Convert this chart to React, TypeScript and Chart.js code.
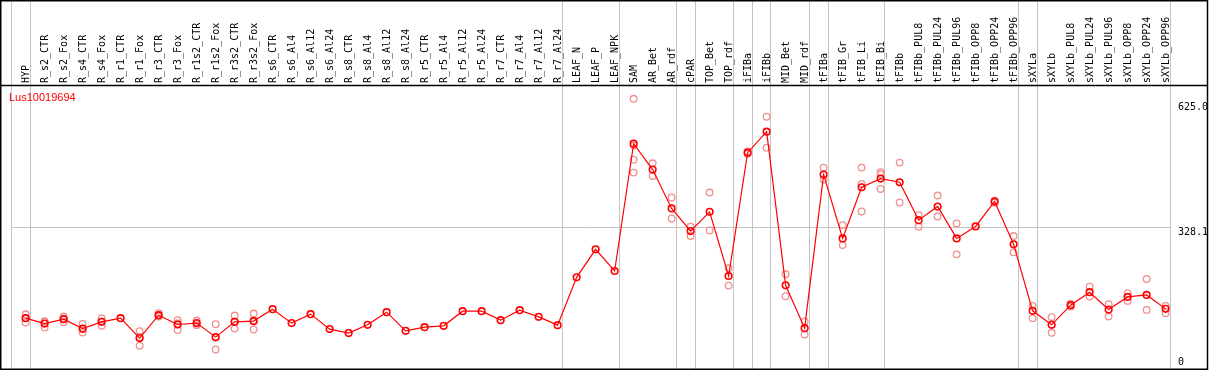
import { useEffect, useRef } from 'react';
import { Chart, registerables } from 'chart.js';

Chart.register(...registerables);

const chartTitle = 'Lus10019694';

const categories = [
  'HYP', 'R_s2_CTR', 'R_s2_Fox', 'R_s4_CTR', 'R_s4_Fox', 'R_r1_CTR', 'R_r1_Fox', 'R_r3_CTR', 'R_r3_Fox',
  'R_r1s2_CTR', 'R_r1s2_Fox', 'R_r3s2_CTR', 'R_r3s2_Fox', 'R_s6_CTR', 'R_s6_Al4', 'R_s6_Al12', 'R_s6_Al24',
  'R_s8_CTR', 'R_s8_Al4', 'R_s8_Al12', 'R_s8_Al24', 'R_r5_CTR', 'R_r5_Al4', 'R_r5_Al12', 'R_r5_Al24',
  'R_r7_CTR', 'R_r7_Al4', 'R_r7_Al12', 'R_r7_Al24', 'LEAF_N', 'LEAF_P', 'LEAF_NPK', 'SAM', 'AR_Bet', 'AR_rdf',
  'cPAR', 'TOP_Bet', 'TOP_rdf', 'iFIBa', 'iFIBb', 'MID_Bet', 'MID_rdf', 'tFIBa', 'tFIB_Gr', 'tFIB_Li', 'tFIB_Bi',
  'tFIBb', 'tFIBb_PUL8', 'tFIBb_PUL24', 'tFIBb_PUL96', 'tFIBb_OPP8', 'tFIBb_OPP24', 'tFIBb_OPP96', 'sXYLa',
  'sXYLb', 'sXYLb_PUL8', 'sXYLb_PUL24', 'sXYLb_PUL96', 'sXYLb_OPP8', 'sXYLb_OPP24', 'sXYLb_OPP96',
];

const meanValues = [
  114.9, 102.1, 112.5, 90.3, 106.1, 114.9, 67.7, 121.9, 99.8, 103.1,
  70.0, 106.1, 107.8, 136.1, 103.1, 124.3, 88.9, 79.5, 99.1, 129.0,
  84.9, 93.6, 96.7, 131.4, 131.4, 110.1, 133.7, 117.9, 98.3, 211.5,
  277.6, 226.4, 527.6, 466.3, 374.3, 320.8, 366.3, 214.6, 506.3, 555.9,
  192.6, 91.2, 454.4, 303.5, 424.5, 445.0, 436.3, 346.7, 379.0, 303.5,
  331.8, 390.8, 289.4, 132.1, 99.1, 145.5, 176.2, 135.2, 165.1, 169.8, 136.8,
];

const replicateValues: number[][] = [
  [124.0, 115.0, 104.5], [107.8, 106.0, 92.7], [118.6, 113.5, 105.4], [101.4, 88.7, 80.9],
  [114.9, 106.7, 96.7], [], [84.2, 69.4, 49.5], [126.7, 120.3, 118.7], [110.1, 102.7, 86.6],
  [109.2, 101.8, 98.3], [100.7, 68.5, 40.8], [121.0, 107.0, 90.3], [125.7, 109.7, 88.0],
  [], [], [], [], [], [], [], [], [], [], [], [], [], [], [], [], [], [], [],
  [633.7, 523.0, 489.8, 459.2], [481.1, 451.2], [400.2, 350.7], [331.0, 309.0], [412.0, 322.4],
  [232.8, 191.8], [509.0, 504.0], [591.3, 518.2], [218.6, 166.7], [106.9, 76.3], [471.0, 442.7],
  [334.9, 287.7], [471.0, 432.3, 367.2], [459.9, 455.0, 420.5], [482.8, 388.4], [358.5, 331.0],
  [404.9, 355.4], [338.9, 265.8], [], [393.0, 388.0], [309.0, 270.5], [143.9, 114.9], [117.2, 80.2],
  [149.0, 142.0], [189.4, 165.8], [147.9, 118.6], [173.8, 155.7], [207.5, 134.4], [143.9, 126.7],
];

const yTickValues = [0, 328.1, 625.0];
const yTickLabels = [['0', ''], ['', '328.1'], ['', '625.0']];

// group separators are drawn just after these category indices
const separatorAfter = [-1, 0, 28, 31, 34, 35, 37, 38, 39, 41, 42, 45, 52, 53, 60];
const separatorShift = 0.23;

const X_MIN = -1 + separatorShift;
const X_MAX = 60 + separatorShift;

const decorPlugin = {
  id: 'decor',
  afterDraw(chart: any) {
    const ctx = chart.ctx;
    const area = chart.chartArea;
    const yScale = chart.scales.y;
    ctx.save();
    ctx.fillStyle = '#ff0000';
    ctx.font = '11px "Liberation Sans", Arial, sans-serif';
    ctx.textBaseline = 'middle';
    ctx.textAlign = 'left';
    ctx.fillText(chartTitle, 9, area.top + 12);
    ctx.strokeStyle = '#000000';
    ctx.lineWidth = 1.5;
    const right = yScale.right + 0.5;
    ctx.strokeRect(0.75, 0.75, right - 0.75, area.bottom - 0.5);
    ctx.beginPath();
    ctx.moveTo(0, area.top - 0.5);
    ctx.lineTo(right, area.top - 0.5);
    ctx.stroke();
    ctx.restore();
  },
};

export default function App() {
  const canvasRef = useRef<HTMLCanvasElement | null>(null);

  useEffect(() => {
    document.body.style.margin = '0';
    const canvas = canvasRef.current;
    if (!canvas) return;

    const meanPoints = meanValues.map((v, i) => ({ x: i, y: v }));
    const replicatePoints: { x: number; y: number }[] = [];
    replicateValues.forEach((reps, i) => reps.forEach((v) => replicatePoints.push({ x: i, y: v })));

    const chart = new Chart(canvas, {
      type: 'line',
      data: {
        datasets: [
          {
            label: 'mean',
            data: meanPoints,
            borderColor: '#ff0000',
            borderWidth: 1.2,
            pointRadius: 3.3,
            pointBorderWidth: 1.6,
            pointBorderColor: '#ff0000',
            pointBackgroundColor: 'rgba(0,0,0,0)',
            tension: 0,
            order: 0,
          },
          {
            label: 'replicates',
            data: replicatePoints,
            showLine: false,
            pointRadius: 3.3,
            pointBorderWidth: 1.3,
            pointBorderColor: '#f09090',
            pointBackgroundColor: 'rgba(0,0,0,0)',
            borderColor: '#f09090',
            order: 1,
          },
        ],
      } as any,
      options: {
        animation: false,
        responsive: false,
        maintainAspectRatio: false,
        layout: { autoPadding: false, padding: { left: 11, right: 2, top: 0, bottom: 1 } },
        plugins: {
          legend: { display: false },
          tooltip: { enabled: false },
          title: { display: false },
        },
        scales: {
          x: {
            type: 'linear',
            position: 'top',
            min: X_MIN,
            max: X_MAX,
            weight: 1,
            afterBuildTicks: (s: any) => {
              s.ticks = categories.map((_, i) => ({ value: i }));
            },
            afterFit: (s: any) => {
              s.height = 86;
              s.paddingLeft = 0;
              s.paddingRight = 0;
              s.paddingTop = 0;
              s.paddingBottom = 0;
            },
            grid: { display: false, drawTicks: false },
            border: { display: false },
            ticks: {
              autoSkip: false,
              minRotation: 90,
              maxRotation: 90,
              padding: 3,
              labelOffset: 12.5,
              color: '#000000',
              font: { family: 'DejaVu Sans Mono', size: 10, lineHeight: 1.2 },
              callback: (v: any) => categories[Math.round(Number(v))] ?? '',
            },
          },
          sep: {
            type: 'linear',
            axis: 'x',
            position: 'top',
            min: X_MIN,
            max: X_MAX,
            weight: 0,
            afterBuildTicks: (s: any) => {
              s.ticks = separatorAfter.map((i) => ({ value: i + separatorShift }));
            },
            afterFit: (s: any) => {
              s.height = 0;
              s.paddingLeft = 0;
              s.paddingRight = 0;
              s.paddingTop = 0;
              s.paddingBottom = 0;
            },
            ticks: { display: false },
            grid: { color: '#c4c4c4', lineWidth: 1, drawTicks: true, tickLength: 86 },
            border: { display: false },
          },
          y: {
            type: 'linear',
            position: 'right',
            min: -5.44,
            max: 664,
            afterBuildTicks: (s: any) => {
              s.ticks = yTickValues.map((v) => ({ value: v }));
            },
            afterFit: (s: any) => {
              s.width = 37;
              s.paddingTop = 0;
              s.paddingBottom = 0;
            },
            grid: {
              color: (c: any) => (c.tick && c.tick.value === 328.1 ? '#c4c4c4' : 'rgba(0,0,0,0)'),
              drawTicks: false,
            },
            border: { display: false },
            ticks: {
              padding: 8,
              color: '#000000',
              font: { family: 'DejaVu Sans Mono', size: 10, lineHeight: 0.9 },
              callback: (_v: any, i: number) => yTickLabels[i],
            },
          },
        } as any,
      },
      plugins: [decorPlugin],
    });

    return () => chart.destroy();
  }, []);

  return (
    <div style={{ position: 'absolute', left: 0, top: 0, width: 1209, height: 370 }}>
      <canvas ref={canvasRef} width={1209} height={370} style={{ display: 'block' }} />
    </div>
  );
}
